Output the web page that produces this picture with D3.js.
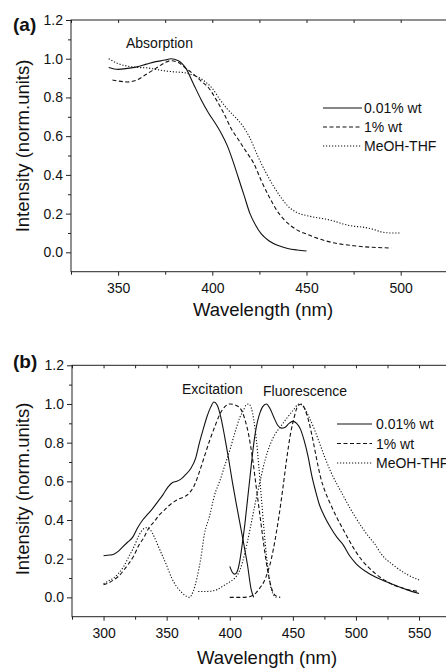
<!DOCTYPE html>
<html>
<head>
<meta charset="utf-8">
<script src="https://cdn.jsdelivr.net/npm/d3@7"></script>
<style>
  html, body { margin: 0; padding: 0; background: #fff; }
  svg text { font-family: "Liberation Sans", Arial, Helvetica, sans-serif; fill: #111; }
</style>
</head>
<body>
<svg id="chart" width="446" height="668"></svg>
<script>
// legend names, same order in both panels
const seriesNames = ['0.01% wt', '1% wt', 'MeOH-THF'];

// (a) absorption
const absWl1 = [345,350,355,360,365,370,375,378,382,386,390,394,398,402,405,408,411,414,417,420,423,426,430,435,440,445,450];
const abs1   = [0.955,0.945,0.95,0.958,0.972,0.985,0.993,1.0,0.99,0.95,0.87,0.79,0.72,0.66,0.61,0.55,0.47,0.38,0.29,0.2,0.14,0.095,0.06,0.035,0.02,0.012,0.007];
const absWl2 = [347,350,355,360,365,370,375,378,382,386,390,394,398,402,406,410,414,418,422,426,430,434,438,442,446,450,455,460,465,470,475,480,485,490,495];
const abs2   = [0.89,0.885,0.88,0.89,0.92,0.95,0.98,0.99,0.98,0.95,0.92,0.885,0.85,0.79,0.72,0.64,0.58,0.52,0.46,0.37,0.29,0.22,0.17,0.135,0.11,0.095,0.075,0.06,0.048,0.04,0.034,0.029,0.026,0.024,0.022];
const absWl3 = [345,350,355,360,365,370,375,380,385,390,395,400,404,408,412,416,420,424,428,432,436,440,445,450,455,460,465,470,475,480,485,490,495,500];
const abs3   = [1.0,0.975,0.962,0.955,0.953,0.945,0.937,0.932,0.928,0.915,0.89,0.847,0.79,0.74,0.70,0.655,0.59,0.50,0.42,0.35,0.29,0.24,0.205,0.19,0.18,0.172,0.16,0.145,0.135,0.13,0.12,0.105,0.1,0.1];

// (b) excitation
const exWl1 = [300,303,307,311,315,319,323,327,331,335,339,343,347,351,355,358,361,365,369,373,376,379,382,385,387.5,390,393,396,399,402,405,408,411,414,417,419];
const ex1   = [0.215,0.218,0.22,0.235,0.26,0.285,0.31,0.36,0.40,0.43,0.46,0.495,0.53,0.57,0.595,0.6,0.61,0.635,0.665,0.72,0.8,0.87,0.935,0.985,1.01,0.995,0.93,0.83,0.72,0.6,0.49,0.385,0.28,0.17,0.04,0.0];
const exWl2 = [300,304,308,312,316,320,324,328,332,336,340,344,348,352,356,360,364,368,372,376,380,384,388,392,396,400,404,408,412,415,418,421,424,427,430,433,436,440];
const ex2   = [0.065,0.075,0.09,0.11,0.14,0.175,0.215,0.27,0.31,0.36,0.39,0.425,0.45,0.475,0.495,0.51,0.52,0.54,0.58,0.65,0.73,0.81,0.88,0.945,0.985,1.0,0.995,0.98,0.92,0.84,0.72,0.57,0.42,0.27,0.14,0.05,0.01,0.0];
const exWl3 = [300,304,308,312,316,320,324,328,331,334,337,340,343,346,350,354,358,362,365,368,371,374,377,380,384,388,392,396,400,404,408,411,413,415,417,419,421,423,425,427,429,431,433,435,437];
const ex3   = [0.07,0.085,0.1,0.125,0.16,0.21,0.26,0.32,0.35,0.36,0.35,0.315,0.27,0.225,0.165,0.1,0.055,0.025,0.008,0.0,0.03,0.1,0.2,0.33,0.42,0.53,0.6,0.68,0.76,0.85,0.93,0.97,0.995,1.0,0.98,0.92,0.82,0.68,0.52,0.36,0.22,0.11,0.04,0.01,0.0];

// (b) fluorescence
const flWl1 = [400,402,404,406,408,410,412,414,416,418,420,422,424,426,429,432,435,438,441,444,447,450,453,456,459,462,465,468,471,475,480,485,490,495,500,510,520,530,540,550];
const fl1   = [0.16,0.13,0.12,0.135,0.19,0.28,0.38,0.5,0.62,0.74,0.84,0.91,0.955,0.985,1.0,0.975,0.93,0.89,0.875,0.88,0.9,0.91,0.9,0.87,0.81,0.73,0.63,0.55,0.48,0.42,0.36,0.31,0.27,0.215,0.175,0.125,0.092,0.065,0.04,0.02];
const flWl2 = [400,405,410,415,418,421,424,427,430,433,436,439,442,445,448,451,454,457,460,463,466,469,472,476,480,485,490,495,500,505,510,515,520,525,530,535,540,545,550];
const fl2   = [0.0,0.0,0.0,0.003,0.01,0.025,0.05,0.08,0.13,0.2,0.3,0.42,0.56,0.71,0.84,0.93,0.99,1.0,0.965,0.9,0.81,0.71,0.62,0.54,0.48,0.41,0.35,0.29,0.235,0.19,0.155,0.125,0.1,0.08,0.063,0.052,0.042,0.035,0.03];
const flWl3 = [375,380,385,390,395,400,404,408,412,416,420,424,428,432,436,440,445,450,455,459,463,467,471,475,480,485,490,495,500,505,510,515,520,530,540,550];
const fl3   = [0.03,0.03,0.032,0.04,0.06,0.08,0.1,0.14,0.23,0.35,0.48,0.6,0.71,0.79,0.845,0.88,0.925,0.965,1.0,0.98,0.93,0.87,0.8,0.73,0.65,0.585,0.525,0.465,0.41,0.36,0.315,0.275,0.225,0.165,0.12,0.09];

// ticks
const yMajor = [0, 0.2, 0.4, 0.6, 0.8, 1.0, 1.2];
const yMinor = [0.1, 0.3, 0.5, 0.7, 0.9, 1.1];
const xMajorA = [350, 400, 450, 500];
const xMinorA = [325, 375, 425, 475, 525];
const xMajorB = [300, 350, 400, 450, 500, 550];
const xMinorB = [275, 325, 375, 425, 475, 525, 575];

const dashes = ['none', '4,2.5', '1.2,1.8'];
const ink = '#111';

const svg = d3.select('#chart');
svg.append('rect').attr('width', 446).attr('height', 668).attr('fill', '#fff');

function drawPanel(p) {
  const x = d3.scaleLinear().domain(p.xDomain).range([p.left, p.right]);
  const y = d3.scaleLinear().domain([-0.1, 1.2]).range([p.bottom, p.top]);
  const g = svg.append('g');

  const line = d3.line()
    .x(d => x(d[0])).y(d => y(d[1]))
    .curve(d3.curveMonotoneX);

  p.curves.forEach(c => {
    g.append('path')
      .datum(d3.zip(c.wl, c.v))
      .attr('d', line)
      .attr('fill', 'none')
      .attr('stroke', ink)
      .attr('stroke-width', 1.1)
      .attr('stroke-dasharray', dashes[c.s]);
  });

  // frame
  g.append('rect')
    .attr('x', p.left).attr('y', p.top)
    .attr('width', p.right - p.left).attr('height', p.bottom - p.top)
    .attr('fill', 'none').attr('stroke', '#222').attr('stroke-width', 1);

  const style = sel => {
    sel.select('.domain').remove();
    sel.selectAll('line').attr('stroke', '#222');
    sel.selectAll('text').attr('font-size', 14).attr('fill', ink)
      .attr('font-family', '"Liberation Sans", Arial, sans-serif');
  };

  // bottom
  g.append('g').attr('transform', `translate(0,${p.bottom})`)
    .call(d3.axisBottom(x).tickValues(p.xMajor).tickSize(4).tickPadding(7).tickFormat(d3.format('d')))
    .call(style);
  g.append('g').attr('transform', `translate(0,${p.bottom})`)
    .call(d3.axisBottom(x).tickValues(p.xMinor).tickSize(3).tickFormat(''))
    .call(style);
  // top, ticks pointing in
  g.append('g').attr('transform', `translate(0,${p.top})`)
    .call(d3.axisBottom(x).tickValues(p.xMajor.concat(p.xMinor)).tickSize(3).tickFormat(''))
    .call(style);
  // left
  g.append('g').attr('transform', `translate(${p.left},0)`)
    .call(d3.axisLeft(y).tickValues(yMajor).tickSize(5).tickPadding(3).tickFormat(d3.format('.1f')))
    .call(style);
  g.append('g').attr('transform', `translate(${p.left},0)`)
    .call(d3.axisLeft(y).tickValues(yMinor).tickSize(3).tickFormat(''))
    .call(style);

  // titles
  g.append('text')
    .attr('x', p.xTitleX).attr('y', p.xTitleY)
    .attr('text-anchor', 'middle').attr('font-size', 18.5)
    .text('Wavelength (nm)');
  g.append('text')
    .attr('transform', `translate(29,${p.yTitleY}) rotate(-90)`)
    .attr('text-anchor', 'middle').attr('font-size', 18.5)
    .text('Intensity (norm.units)');
  g.append('text')
    .attr('x', 13).attr('y', p.tagY)
    .attr('font-size', 19).attr('font-weight', 'bold')
    .text(p.tag);

  p.notes.forEach(n => {
    g.append('text').attr('x', n.x).attr('y', n.y).attr('font-size', 14).text(n.t);
  });

  // legend
  seriesNames.forEach((name, i) => {
    const ly = p.legY + i * p.legGap;
    g.append('line')
      .attr('x1', p.legX1).attr('x2', p.legX2).attr('y1', ly).attr('y2', ly)
      .attr('stroke', ink).attr('stroke-width', 1.1)
      .attr('stroke-dasharray', dashes[i]);
    g.append('text')
      .attr('x', p.legX2 + p.legPad).attr('y', ly + 5)
      .attr('font-size', 14)
      .text(name);
  });
}

drawPanel({
  tag: '(a)', tagY: 31,
  xDomain: [325, 525], left: 71, right: 447.8, top: 20, bottom: 271.7,
  xMajor: xMajorA, xMinor: xMinorA,
  xTitleX: 263, xTitleY: 316, yTitleY: 146,
  legX1: 323, legX2: 362, legPad: 2, legY: 108, legGap: 19,
  notes: [{ t: 'Absorption', x: 126, y: 48 }],
  curves: [
    { wl: absWl1, v: abs1, s: 0 },
    { wl: absWl2, v: abs2, s: 1 },
    { wl: absWl3, v: abs3, s: 2 }
  ]
});

drawPanel({
  tag: '(b)', tagY: 368,
  xDomain: [275, 575], left: 72, right: 450.6, top: 365.3, bottom: 616.7,
  xMajor: xMajorB, xMinor: xMinorB,
  xTitleX: 267, xTitleY: 663.5, yTitleY: 489,
  legX1: 337, legX2: 372, legPad: 4, legY: 424, legGap: 19.5,
  notes: [
    { t: 'Excitation', x: 182, y: 394 },
    { t: 'Fluorescence', x: 263, y: 396 }
  ],
  curves: [
    { wl: exWl1, v: ex1, s: 0 },
    { wl: exWl2, v: ex2, s: 1 },
    { wl: exWl3, v: ex3, s: 2 },
    { wl: flWl1, v: fl1, s: 0 },
    { wl: flWl2, v: fl2, s: 1 },
    { wl: flWl3, v: fl3, s: 2 }
  ]
});
</script>
</body>
</html>
